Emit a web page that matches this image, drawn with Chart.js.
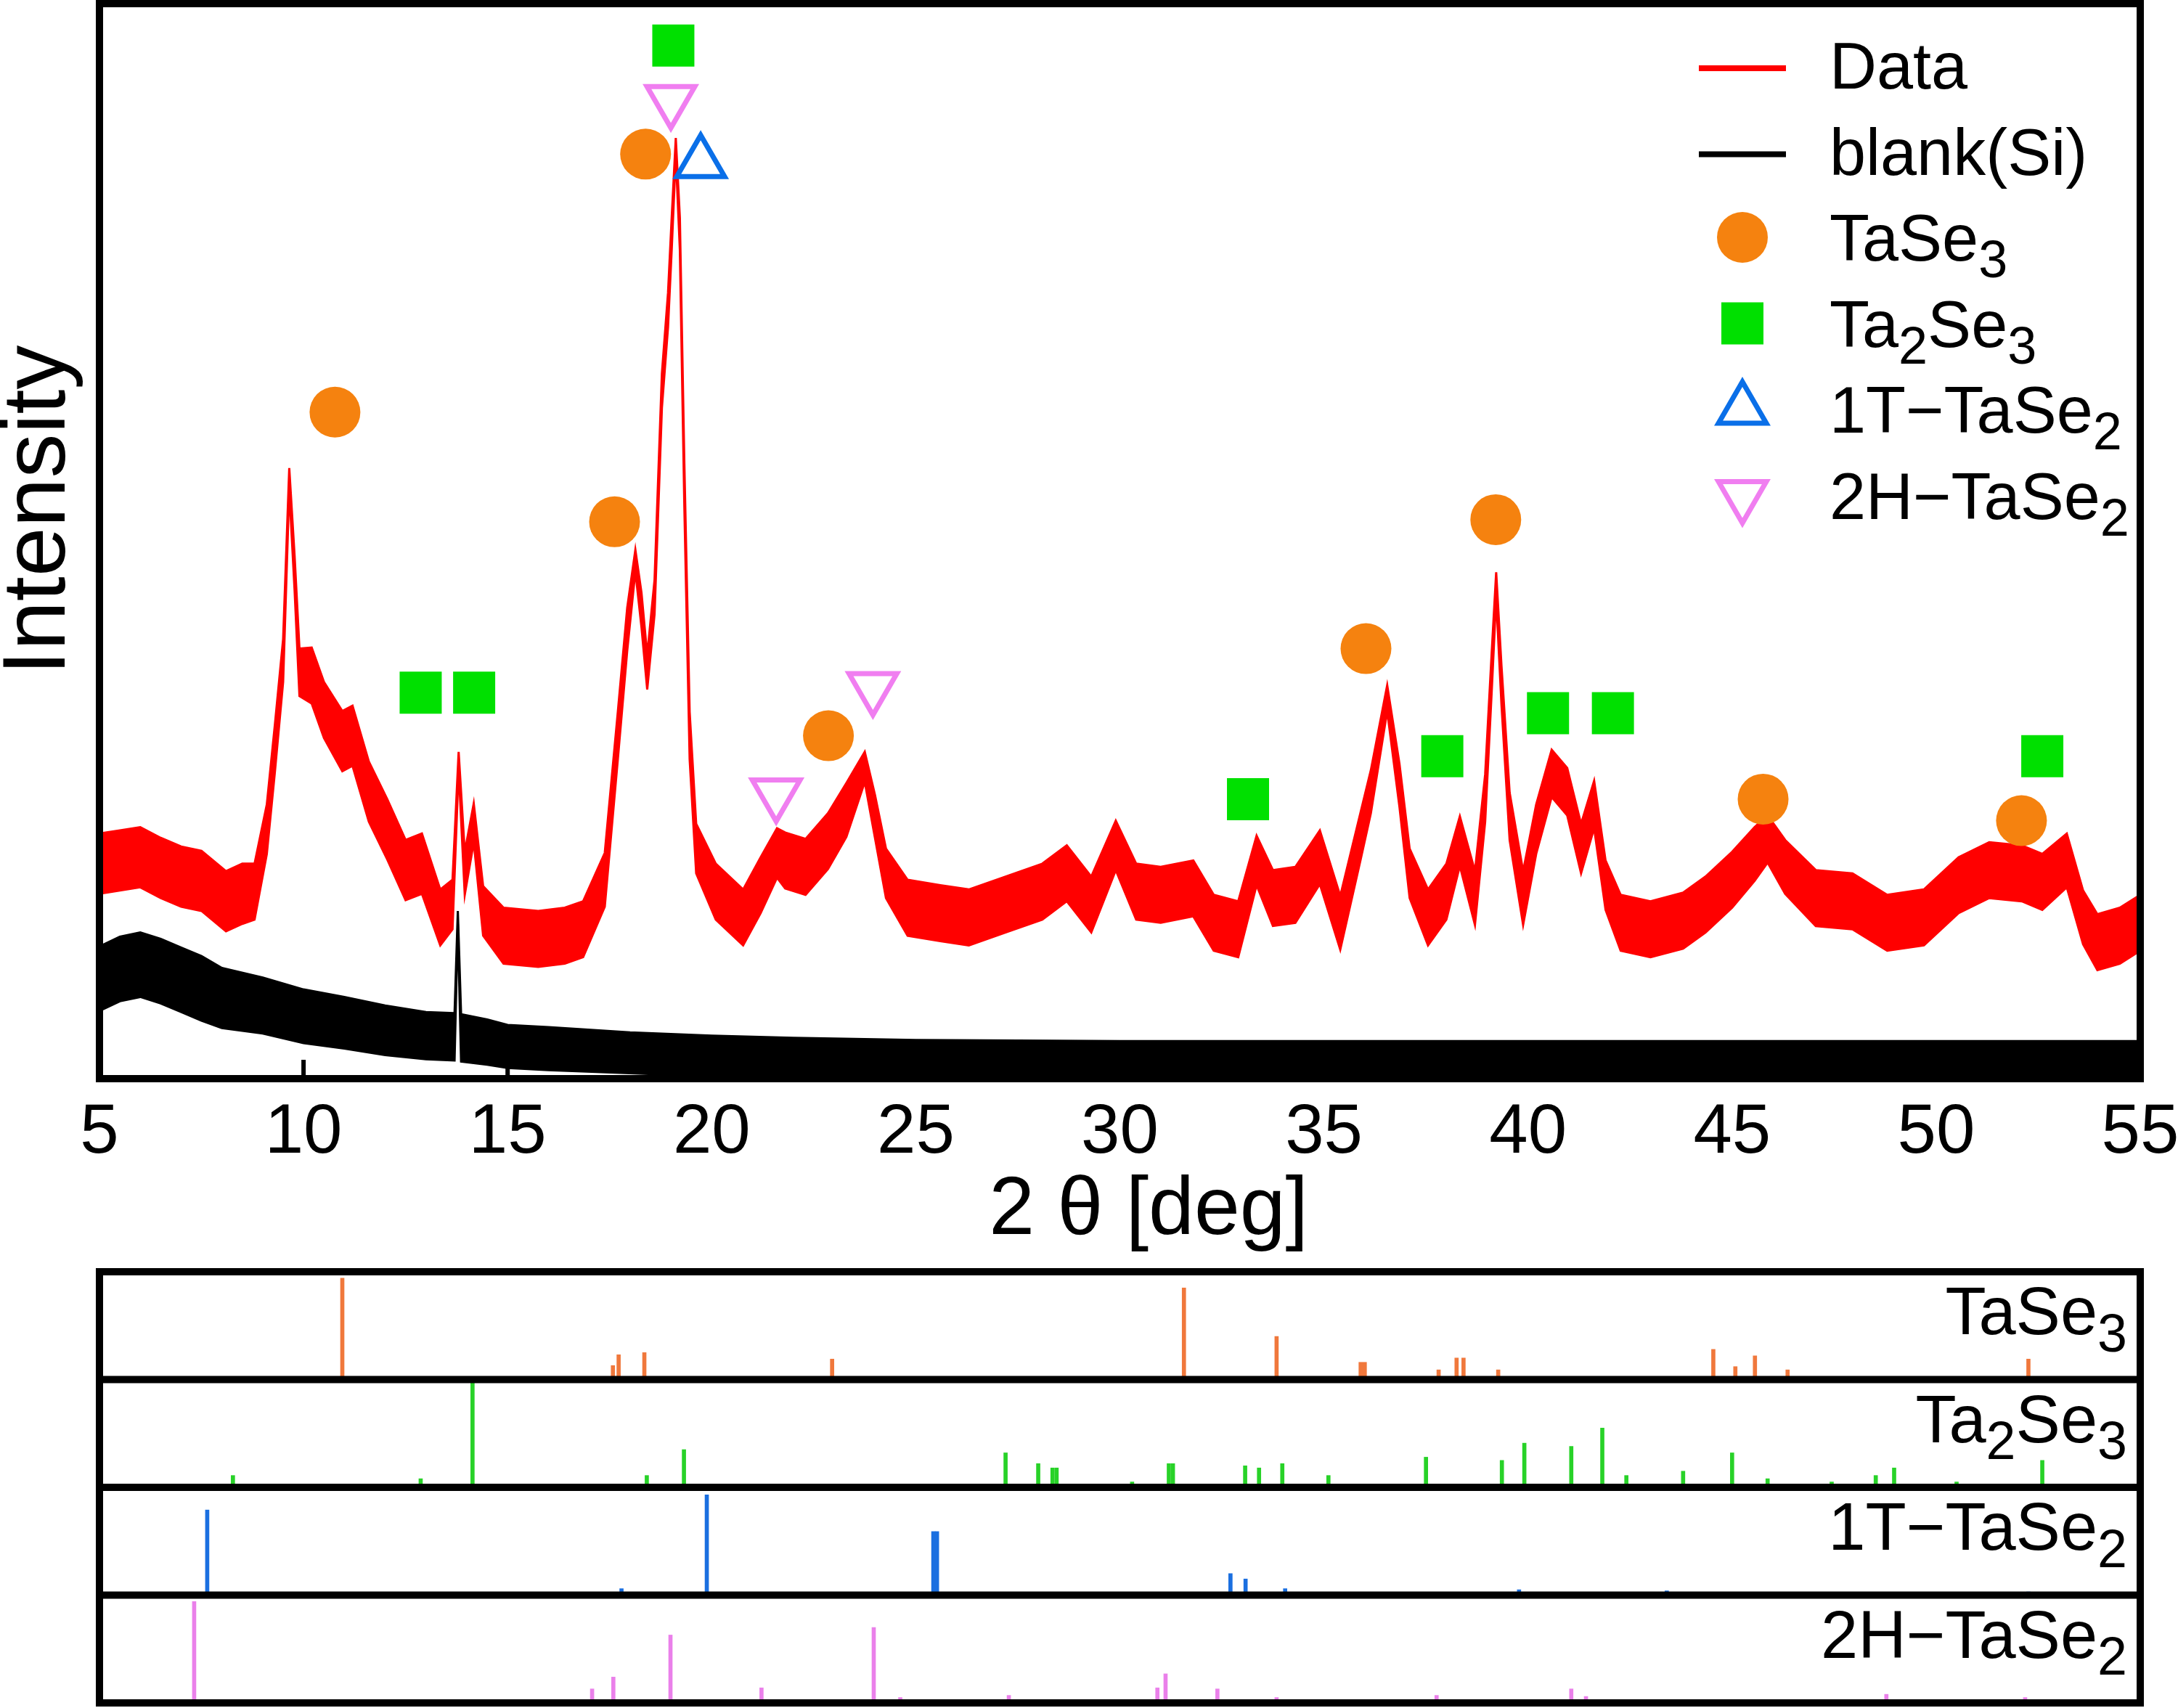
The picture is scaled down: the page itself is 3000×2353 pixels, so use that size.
<!DOCTYPE html>
<html>
<head>
<meta charset="utf-8">
<title>XRD pattern</title>
<script src="https://cdn.jsdelivr.net/npm/chart.js@4.4.1/dist/chart.umd.min.js"></script>
<style>
  body { margin: 0; background: #fff; }
  #wrap { position: relative; width: 3000px; height: 2353px; }
  canvas { position: absolute; left: 0; }
  #main { top: 0; }
  #refs { top: 1745px; }
</style>
</head>
<body>
<div id="wrap">
  <canvas id="main" width="3000" height="1745"></canvas>
  <canvas id="refs" width="3000" height="608"></canvas>
</div>
<script>
const FONT = "'Liberation Sans', Arial, Helvetica, sans-serif";

const xTickValues = [5, 10, 15, 20, 25, 30, 35, 40, 45, 50, 55];

const dataTheta = [5.0, 5.5, 6.0, 6.5, 7.0, 7.5, 8.1, 8.5, 8.8, 9.1, 9.3, 9.5, 9.65, 9.78, 9.9,
  10.2, 10.5, 10.95, 11.2, 11.6, 12.05, 12.5, 12.9, 13.35, 13.65, 13.8, 13.95, 14.17, 14.4, 14.9,
  15.75, 16.4, 16.85, 17.38, 17.7, 17.93, 18.13, 18.28, 18.42, 18.6, 18.78, 18.93, 19.02, 19.12,
  19.22, 19.33, 19.46, 19.62, 20.1, 20.77, 21.2, 21.6, 21.8, 22.3, 22.85, 23.3, 23.75, 24.0, 24.27,
  24.8, 25.6, 26.3, 27.2, 28.1, 28.7, 29.3, 29.9, 30.4, 31.0, 31.8, 32.3, 32.9, 33.35, 33.75, 34.3,
  34.9, 35.4, 35.9, 36.15, 36.55, 36.85, 37.1, 37.55, 38.0, 38.33, 38.7, 38.95, 39.11, 39.22, 39.35,
  39.55, 39.88, 40.2, 40.58, 40.96, 41.3, 41.62, 41.9, 42.27, 43.0, 43.8, 44.35, 45.0, 45.55, 45.87,
  46.3, 47.05, 47.95, 48.8, 49.7, 50.55, 51.3, 52.1, 52.6, 53.2, 53.6, 53.95, 54.5, 55.0];
const dataCenter = [20.0, 20.3, 20.6, 19.6, 18.8, 18.4, 16.5, 17.2, 17.4, 23.2, 30.8, 38.9, 55.8, 47.1, 37.8,
  37.5, 34.3, 31.4, 31.9, 26.7, 23.2, 19.4, 20.0, 15.0, 16.2, 29.6, 19.1, 23.8, 15.6, 13.3,
  13.0, 13.3, 13.9, 18.5, 31.9, 41.8, 48.2, 43.6, 37.8, 44.8, 64.0, 71.5, 78.6, 86.7,
  78.6, 55.2, 31.9, 21.4, 17.4, 15.0, 18.0, 21.0, 20.3, 19.7, 22.1, 25.0, 29.0, 24.4, 19.1,
  15.9, 15.4, 15.0, 16.2, 17.4, 19.1, 16.2, 21.7, 17.4, 17.1, 17.7, 14.5, 13.9, 20.3, 16.8, 17.1,
  20.6, 14.5, 22.6, 26.7, 35.4, 27.3, 19.1, 15.0, 17.4, 22.1, 16.8, 26.1, 37.8, 45.9, 36.6,
  24.4, 16.8, 23.2, 28.4, 26.7, 21.4, 25.5, 18.0, 14.5, 13.9, 14.7, 16.2, 18.5, 20.9, 22.3,
  19.7, 16.8, 16.5, 14.5, 15.0, 18.0, 19.4, 19.1, 18.3, 20.3, 15.0, 12.7, 13.3, 14.5];
const dataSpread = [2.8, 2.8, 2.8, 2.8, 2.8, 2.8, 2.8, 2.8, 2.6, 2.3, 2.2, 2.0, 1.0, 1.6, 2.2,
  2.6, 2.6, 2.8, 2.8, 2.8, 2.8, 2.8, 2.8, 2.6, 2.3, 0.8, 2.0, 1.8, 2.3, 2.6,
  2.6, 2.6, 2.6, 2.5, 2.2, 2.0, 1.0, 1.6, 1.6, 1.6, 1.6, 1.6, 1.5, 0.8,
  1.5, 2.0, 2.2, 2.3, 2.6, 2.6, 2.6, 2.3, 2.6, 2.6, 2.6, 2.5, 1.4, 2.0, 2.3,
  2.6, 2.6, 2.6, 2.6, 2.6, 2.6, 2.6, 2.3, 2.6, 2.6, 2.6, 2.6, 2.6, 2.3, 2.6, 2.6,
  2.5, 2.5, 2.2, 2.0, 1.2, 2.0, 2.3, 2.6, 2.6, 2.3, 2.5, 2.2, 1.8, 1.2, 1.8,
  2.2, 2.5, 2.3, 2.2, 2.2, 2.3, 2.2, 2.3, 2.6, 2.6, 2.6, 2.6, 2.6, 2.5, 2.2,
  2.5, 2.6, 2.6, 2.6, 2.6, 2.6, 2.6, 2.6, 2.6, 2.5, 2.5, 2.6, 2.6, 2.6];

const blankTheta = [5.0, 5.5, 6.0, 6.5, 7.0, 7.5, 8.0, 9.0, 10.0, 11.0, 12.0, 13.0, 13.7, 13.78, 13.86,
  14.5, 15.0, 16.0, 18.0, 20.0, 22.0, 25.0, 30.0, 35.0, 40.0, 45.0, 50.0, 55.0];
const blankCenter = [9.3, 10.2, 10.6, 10.0, 9.2, 8.4, 7.5, 6.8, 5.8, 5.2, 4.5, 4.0, 3.9, 15.0, 3.8,
  3.4, 3.0, 2.8, 2.4, 2.1, 1.9, 1.7, 1.6, 1.6, 1.6, 1.6, 1.6, 1.6];
const blankSpread = [3.0, 3.0, 3.0, 3.0, 3.0, 3.0, 2.8, 2.6, 2.5, 2.4, 2.3, 2.2, 2.2, 0.6, 2.2,
  2.1, 2.0, 2.0, 1.9, 1.9, 1.9, 1.9, 1.9, 1.9, 1.9, 1.9, 1.9, 1.9];

// phase markers placed above the peaks
const tase3Theta = [10.77, 17.62, 18.38, 22.86, 36.03, 39.21, 45.76, 52.09];
const tase3Y = [62.0, 51.8, 86.0, 31.9, 40.0, 52.0, 26.0, 24.0];
const ta2se3Theta = [12.87, 14.18, 19.06, 33.14, 37.9, 40.49, 42.08, 52.6];
const ta2se3Y = [35.9, 35.9, 96.1, 26.0, 30.0, 34.0, 34.0, 30.0];
const t1Theta = [19.73];
const t1Y = [85.2];
const h2Theta = [19.0, 21.58, 23.95];
const h2Y = [91.0, 26.5, 36.4];

// reference sticks [2theta, relative intensity %]
const tase3Sticks = [[10.95, 94], [17.58, 13], [17.72, 23], [18.35, 25], [22.95, 19], [31.57, 85],
  [33.84, 40], [35.9, 16], [36.0, 16], [37.81, 9], [38.25, 20], [38.42, 20], [39.27, 9], [44.54, 28],
  [45.08, 12], [45.56, 22], [46.36, 9], [52.26, 19]];
const ta2se3Sticks = [[8.27, 11], [12.87, 8], [14.14, 97], [18.41, 11], [19.32, 35], [27.2, 32],
  [28.0, 22], [28.35, 18], [28.45, 18], [30.3, 5], [31.2, 22], [31.3, 22], [33.07, 20], [33.41, 18],
  [33.98, 22], [35.11, 11], [37.5, 28], [39.36, 25], [39.91, 41], [41.06, 38], [41.82, 55], [42.41, 11],
  [43.8, 15], [45.0, 32], [45.87, 8], [47.44, 5], [48.52, 11], [48.97, 18], [50.5, 5], [52.6, 25]];
const t1Sticks = [[7.64, 79], [17.79, 6], [19.88, 93], [25.43, 59], [25.52, 59], [32.71, 20],
  [33.08, 15], [34.05, 6], [39.78, 5], [43.4, 4], [52.26, 3]];
const h2Sticks = [[7.32, 94], [17.07, 13], [17.59, 24], [18.99, 63], [21.22, 14], [23.97, 70],
  [24.62, 5], [27.28, 7], [30.92, 14], [31.12, 27], [32.39, 13], [33.84, 5], [37.76, 7], [41.06, 13],
  [41.42, 6], [48.78, 8], [52.18, 5]];

function pts(xs, ys) {
  return xs.map((x, i) => ({ x: x, y: ys[i] }));
}
function edge(xs, c, s, sign) {
  return xs.map((x, i) => ({ x: x, y: c[i] + sign * s[i] }));
}

// text with single-character subscripts written as "_3"
function chemParts(str) {
  const parts = [];
  let i = 0;
  while (i < str.length) {
    if (str[i] === '_') {
      parts.push({ t: str[i + 1], sub: true });
      i += 2;
    } else {
      let j = i;
      while (j < str.length && str[j] !== '_') j++;
      parts.push({ t: str.slice(i, j), sub: false });
      i = j;
    }
  }
  return parts;
}
function drawChem(ctx, str, x, y, size, align) {
  const parts = chemParts(str);
  const subSize = size * 0.8;
  let w = 0;
  parts.forEach(p => {
    ctx.font = (p.sub ? subSize : size) + 'px ' + FONT;
    p.w = ctx.measureText(p.t).width;
    w += p.w;
  });
  let cx = align === 'right' ? x - w : x;
  ctx.textAlign = 'left';
  ctx.textBaseline = 'alphabetic';
  parts.forEach(p => {
    ctx.font = (p.sub ? subSize : size) + 'px ' + FONT;
    ctx.fillText(p.t, cx, p.sub ? y + size * 0.26 : y);
    cx += p.w;
  });
}

function markerSet(label, xs, ys, style, fill, stroke, radius, rot, bw) {
  return {
    label: label,
    data: pts(xs, ys),
    showLine: false,
    order: 0,
    pointStyle: style,
    pointRadius: radius,
    pointHoverRadius: radius,
    pointRotation: rot,
    pointBackgroundColor: fill,
    pointBorderColor: stroke,
    pointBorderWidth: bw,
    pointHoverBorderWidth: bw
  };
}

const mainDecor = {
  id: 'mainDecor',
  afterDraw(chart) {
    const ctx = chart.ctx;
    const a = chart.chartArea;
    const xs = chart.scales.x;
    ctx.save();
    ctx.strokeStyle = '#000';
    ctx.lineWidth = 6;
    xs.ticks.forEach(t => {
      const px = xs.getPixelForValue(t.value);
      ctx.beginPath();
      ctx.moveTo(px, a.bottom);
      ctx.lineTo(px, a.bottom - 26);
      ctx.stroke();
    });
    ctx.lineWidth = 10;
    ctx.strokeRect(a.left, a.top, a.right - a.left, a.bottom - a.top);

    // legend inside the plot, top right
    let row = 0;
    chart.data.datasets.forEach(ds => {
      if (!ds.label) return;
      const base = a.top + 117 + row * 118.5;
      const mx = a.right - 548;
      if (ds.showLine === false) {
        ctx.fillStyle = ds.pointBackgroundColor;
        ctx.strokeStyle = ds.pointBorderColor;
        ctx.lineWidth = ds.pointBorderWidth;
        Chart.helpers.drawPoint(ctx, {
          pointStyle: ds.pointStyle,
          rotation: ds.pointRotation,
          radius: ds.pointRadius,
          borderWidth: ds.pointBorderWidth
        }, mx, base - 32);
      } else {
        ctx.strokeStyle = ds.borderColor;
        ctx.lineWidth = 8;
        ctx.beginPath();
        ctx.moveTo(mx - 60, base - 28);
        ctx.lineTo(mx + 60, base - 28);
        ctx.stroke();
      }
      ctx.fillStyle = '#000';
      drawChem(ctx, ds.label, a.right - 428, base, 90, 'left');
      row++;
    });
    ctx.restore();
  }
};

new Chart(document.getElementById('main'), {
  type: 'line',
  data: {
    datasets: [
      { label: 'Data', data: edge(dataTheta, dataCenter, dataSpread, 1), borderColor: '#ff0000',
        backgroundColor: '#ff0000', borderWidth: 3, pointRadius: 0, tension: 0, fill: '+1', order: 1 },
      { data: edge(dataTheta, dataCenter, dataSpread, -1), borderColor: '#ff0000',
        backgroundColor: '#ff0000', borderWidth: 3, pointRadius: 0, tension: 0, fill: false, order: 1 },
      { label: 'blank(Si)', data: edge(blankTheta, blankCenter, blankSpread, 1), borderColor: '#000000',
        backgroundColor: '#000000', borderWidth: 3, pointRadius: 0, tension: 0, fill: '+1', order: 2 },
      { data: edge(blankTheta, blankCenter, blankSpread, -1), borderColor: '#000000',
        backgroundColor: '#000000', borderWidth: 3, pointRadius: 0, tension: 0, fill: false, order: 2 },
      markerSet('TaSe_3', tase3Theta, tase3Y, 'circle', '#f5820f', '#f5820f', 35, 0, 0),
      markerSet('Ta_2Se_3', ta2se3Theta, ta2se3Y, 'rect', '#00e000', '#00e000', 41, 0, 0),
      markerSet('1T\u2212TaSe_2', t1Theta, t1Y, 'triangle', 'rgba(0,0,0,0)', '#0a6fe8', 38, 0, 7),
      markerSet('2H\u2212TaSe_2', h2Theta, h2Y, 'triangle', 'rgba(0,0,0,0)', '#f07ef0', 38, 180, 7)
    ]
  },
  options: {
    responsive: false,
    animation: false,
    devicePixelRatio: 1,
    events: [],
    layout: { autoPadding: false, padding: { left: 0, right: 52, top: 5, bottom: 0 } },
    plugins: { legend: { display: false }, tooltip: { enabled: false } },
    scales: {
      x: {
        type: 'linear', min: 5, max: 55,
        afterBuildTicks: s => { s.ticks = xTickValues.map(v => ({ value: v })); },
        afterFit: s => { s.height = 259; s.paddingLeft = 0; s.paddingRight = 0; },
        ticks: { font: { family: FONT, size: 96 }, color: '#000', padding: 18, maxRotation: 0, autoSkip: false },
        grid: { display: false, drawTicks: false },
        border: { display: false },
        title: { display: true, text: '\u2002\u20092 \u03b8 [deg]', color: '#000',
          font: { family: FONT, size: 113 }, padding: { top: 0, bottom: 8 } }
      },
      y: {
        min: 0, max: 100,
        afterFit: s => { s.width = 137; s.paddingTop = 0; s.paddingBottom = 0; },
        ticks: { display: false },
        grid: { display: false, drawTicks: false },
        border: { display: false },
        title: { display: true, text: '\u2002\u2009Intensity', color: '#000',
          font: { family: FONT, size: 122, lineHeight: 0.9 }, padding: { top: 0, bottom: 0 } }
      }
    }
  },
  plugins: [mainDecor]
});

// reference patterns, one panel per phase (level 3 = top panel)
const refSets = [
  { label: 'TaSe_3', sticks: tase3Sticks, color: '#f0783c', level: 3 },
  { label: 'Ta_2Se_3', sticks: ta2se3Sticks, color: '#28d228', level: 2 },
  { label: '1T\u2212TaSe_2', sticks: t1Sticks, color: '#1a6fe0', level: 1 },
  { label: '2H\u2212TaSe_2', sticks: h2Sticks, color: '#ea80ea', level: 0 }
];

const refDecor = {
  id: 'refDecor',
  afterDatasetsDraw(chart) {
    const ctx = chart.ctx;
    const a = chart.chartArea;
    const ys = chart.scales.y;
    ctx.save();
    ctx.strokeStyle = '#000';
    ctx.lineWidth = 10;
    for (let k = 0; k <= refSets.length; k++) {
      const py = ys.getPixelForValue(k);
      ctx.beginPath();
      ctx.moveTo(a.left - 5, py);
      ctx.lineTo(a.right + 5, py);
      ctx.stroke();
    }
    ctx.beginPath();
    ctx.moveTo(a.left, a.top);
    ctx.lineTo(a.left, a.bottom);
    ctx.moveTo(a.right, a.top);
    ctx.lineTo(a.right, a.bottom);
    ctx.stroke();
    ctx.fillStyle = '#000';
    refSets.forEach(r => {
      const top = ys.getPixelForValue(r.level + 1);
      drawChem(ctx, r.label, a.right - 18, top + 86, 92, 'right');
    });
    ctx.restore();
  }
};

new Chart(document.getElementById('refs'), {
  type: 'bar',
  data: {
    datasets: refSets.map(r => ({
      label: r.label,
      data: r.sticks.map(p => ({ x: p[0], y: [r.level, r.level + p[1] / 100] })),
      backgroundColor: r.color,
      barThickness: 5,
      grouped: false
    }))
  },
  options: {
    responsive: false,
    animation: false,
    devicePixelRatio: 1,
    events: [],
    layout: { autoPadding: false, padding: { left: 137, right: 52, top: 7, bottom: 7 } },
    plugins: { legend: { display: false }, tooltip: { enabled: false } },
    scales: {
      x: { type: 'linear', min: 5, max: 55, offset: false, display: false },
      y: { min: 0, max: 4, display: false }
    }
  },
  plugins: [refDecor]
});
</script>
</body>
</html>
